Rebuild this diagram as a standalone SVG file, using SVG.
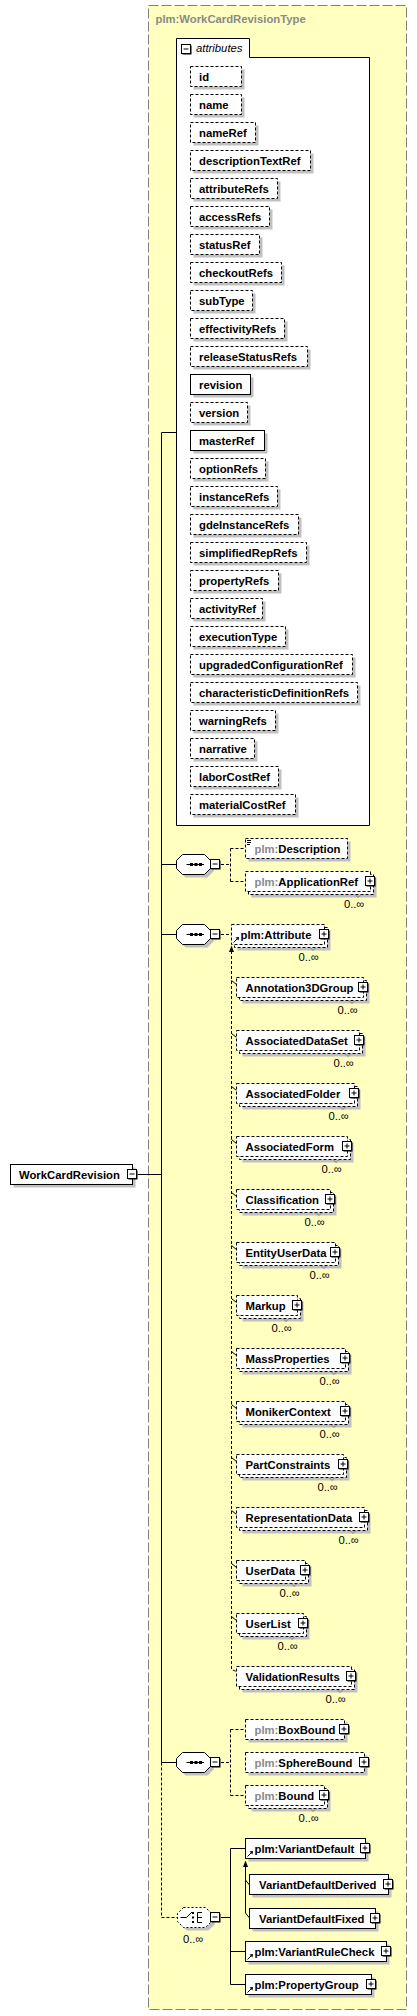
<svg xmlns="http://www.w3.org/2000/svg" xmlns:xlink="http://www.w3.org/1999/xlink" width="417" height="2016" viewBox="0 0 417 2016">
<style>
.t{font-family:"Liberation Sans",Arial,sans-serif;font-size:11.3px;font-weight:bold;fill:#000}
.g{fill:#8a8a8a}
.ti{font-family:"Liberation Sans",Arial,sans-serif;font-size:11.3px;font-weight:bold;fill:#8a8a8a}
.it{font-family:"Liberation Sans",Arial,sans-serif;font-size:11.3px;font-style:italic;fill:#000}
.m{font-family:"Liberation Sans",Arial,sans-serif;font-size:11.3px;fill:#000;text-anchor:end}
.sh{fill:#c0c0c0}
.b{fill:#fff;stroke:#000;stroke-width:1}
.ob{fill:#fff;stroke:#000;stroke-width:1;stroke-dasharray:3,2}
.ln{fill:none;stroke:#000;stroke-width:1}
.dl{fill:none;stroke:#000;stroke-width:1;stroke-dasharray:3,2}
</style>
<defs>
<g id="plus"><rect x="1.5" y="1.5" width="9" height="9" fill="#000"/><rect x="0.5" y="0.5" width="9" height="9" fill="#fff" stroke="#000"/><path d="M2.5 5h5M5 2.5v5" stroke="#000"/></g>
<g id="minus"><rect x="1.5" y="1.5" width="9" height="9" fill="#000"/><rect x="0.5" y="0.5" width="9" height="9" fill="#fff" stroke="#000"/><path d="M2.5 5h5" stroke="#000"/></g>
<path id="oct" d="M6.5,0.5 H28.5 L34.5,6.5 V14.5 L28.5,20.5 H6.5 L0.5,14.5 V6.5 Z"/>
<g id="seqicon"><path d="M10.5 10.5H28" stroke="#000"/><rect x="14" y="9" width="3" height="3" fill="#000"/><rect x="18.5" y="9" width="3" height="3" fill="#000"/><rect x="23" y="9" width="3" height="3" fill="#000"/></g>
<g id="ref"><path d="M0.5 6.5L4.5 2.5" stroke="#000"/><polygon points="6,1 2.5,1.5 5.5,4.5" fill="#000"/></g>
<path id="notch" d="M0 0l3 3l3 -3" fill="none" stroke="#808080"/>
</defs>

<g id="type-box">
<rect x="148.5" y="5.5" width="258" height="2004" fill="#FFFFC0" stroke="#808080" stroke-dasharray="10,3"/>
<text class="ti" x="155.5" y="22.5">plm:WorkCardRevisionType</text>
</g>

<g id="connectors">
<path class="ln" d="M137.5 1174.5H161.5"/>
<path class="ln" d="M161.5 432.5V1762.5"/>
<path class="ln" d="M161.5 432.5H176.5"/>
<path class="dl" d="M161.5 1762.5V1917.5H177"/>
<path class="ln" d="M161.5 864.5H176"/>
<path class="ln" d="M161.5 934.5H176"/>
<path class="ln" d="M161.5 1762.5H176"/>
<path class="dl" d="M221 864.5H230.5M230.5 848.5V881.5M230.5 848.5H245.5M230.5 881.5H245.5"/>
<path class="dl" d="M221 934.5H231.5"/>
<path class="dl" d="M231.5 951V1669.5L236.5 1671.5"/>
<polygon points="231.5,945.5 229,952 234,952" fill="#000"/>
<path class="ln" d="M231.5 980.5L236.5 984.5M231.5 1033.5L236.5 1037.5M231.5 1086.5L236.5 1090.5M231.5 1139.5L236.5 1143.5M231.5 1192.5L236.5 1196.5M231.5 1245.5L236.5 1249.5M231.5 1298.5L236.5 1302.5M231.5 1351.5L236.5 1355.5M231.5 1404.5L236.5 1408.5M231.5 1457.5L236.5 1461.5M231.5 1510.5L236.5 1514.5M231.5 1563.5L236.5 1567.5M231.5 1616.5L236.5 1620.5"/>
<path class="dl" d="M221 1762.5H230.5M230.5 1729.5V1795.5M230.5 1729.5H245.5M230.5 1795.5H245.5"/>
<path class="ln" d="M221 1917.5H230.5M230.5 1848.5V1984.5M230.5 1848.5H245.5M230.5 1951.5H245.5M230.5 1984.5H245.5"/>
<path class="ln" d="M245.5 1866V1913L249.5 1918M245.5 1880L249.5 1885"/>
<polygon points="245.5,1860.5 243,1867 248,1867" fill="#000"/>
</g>

<g id="n-WorkCardRevision">
<rect class="sh" x="13.5" y="1167.5" width="122" height="20"/>
<rect class="b" x="10.5" y="1164.5" width="122" height="20"/>
<text class="t" x="19" y="1178.5">WorkCardRevision</text>
<use href="#minus" x="127" y="1169"/>
</g>

<g id="attributes">
<path d="M176.5 38.5H249.5V57.5H369.5V825.5H176.5Z" fill="#fff" stroke="#000"/>
<use href="#minus" x="181" y="44"/>
<text class="it" x="196" y="52">attributes</text>
</g>

<g id="attr-id"><rect class="sh" x="193.5" y="69.5" width="51" height="20"/><rect class="ob" x="190.5" y="66.5" width="51" height="20"/><text class="t" x="199" y="80.5">id</text></g>
<g id="attr-name"><rect class="sh" x="193.5" y="97.5" width="51" height="20"/><rect class="ob" x="190.5" y="94.5" width="51" height="20"/><text class="t" x="199" y="108.5">name</text></g>
<g id="attr-nameRef"><rect class="sh" x="193.5" y="125.5" width="65" height="20"/><rect class="ob" x="190.5" y="122.5" width="65" height="20"/><text class="t" x="199" y="136.5">nameRef</text></g>
<g id="attr-descriptionTextRef"><rect class="sh" x="193.5" y="153.5" width="120" height="20"/><rect class="ob" x="190.5" y="150.5" width="120" height="20"/><text class="t" x="199" y="164.5">descriptionTextRef</text></g>
<g id="attr-attributeRefs"><rect class="sh" x="193.5" y="181.5" width="87" height="20"/><rect class="ob" x="190.5" y="178.5" width="87" height="20"/><text class="t" x="199" y="192.5">attributeRefs</text></g>
<g id="attr-accessRefs"><rect class="sh" x="193.5" y="209.5" width="79" height="20"/><rect class="ob" x="190.5" y="206.5" width="79" height="20"/><text class="t" x="199" y="220.5">accessRefs</text></g>
<g id="attr-statusRef"><rect class="sh" x="193.5" y="237.5" width="69" height="20"/><rect class="ob" x="190.5" y="234.5" width="69" height="20"/><text class="t" x="199" y="248.5">statusRef</text></g>
<g id="attr-checkoutRefs"><rect class="sh" x="193.5" y="265.5" width="91" height="20"/><rect class="ob" x="190.5" y="262.5" width="91" height="20"/><text class="t" x="199" y="276.5">checkoutRefs</text></g>
<g id="attr-subType"><rect class="sh" x="193.5" y="293.5" width="62" height="20"/><rect class="ob" x="190.5" y="290.5" width="62" height="20"/><text class="t" x="199" y="304.5">subType</text></g>
<g id="attr-effectivityRefs"><rect class="sh" x="193.5" y="321.5" width="94" height="20"/><rect class="ob" x="190.5" y="318.5" width="94" height="20"/><text class="t" x="199" y="332.5">effectivityRefs</text></g>
<g id="attr-releaseStatusRefs"><rect class="sh" x="193.5" y="349.5" width="117" height="20"/><rect class="ob" x="190.5" y="346.5" width="117" height="20"/><text class="t" x="199" y="360.5">releaseStatusRefs</text></g>
<g id="attr-revision"><rect class="sh" x="193.5" y="377.5" width="60" height="20"/><rect class="b" x="190.5" y="374.5" width="60" height="20"/><text class="t" x="199" y="388.5">revision</text></g>
<g id="attr-version"><rect class="sh" x="193.5" y="405.5" width="57" height="20"/><rect class="ob" x="190.5" y="402.5" width="57" height="20"/><text class="t" x="199" y="416.5">version</text></g>
<g id="attr-masterRef"><rect class="sh" x="193.5" y="433.5" width="74" height="20"/><rect class="b" x="190.5" y="430.5" width="74" height="20"/><text class="t" x="199" y="444.5">masterRef</text></g>
<g id="attr-optionRefs"><rect class="sh" x="193.5" y="461.5" width="75" height="20"/><rect class="ob" x="190.5" y="458.5" width="75" height="20"/><text class="t" x="199" y="472.5">optionRefs</text></g>
<g id="attr-instanceRefs"><rect class="sh" x="193.5" y="489.5" width="87" height="20"/><rect class="ob" x="190.5" y="486.5" width="87" height="20"/><text class="t" x="199" y="500.5">instanceRefs</text></g>
<g id="attr-gdeInstanceRefs"><rect class="sh" x="193.5" y="517.5" width="108" height="20"/><rect class="ob" x="190.5" y="514.5" width="108" height="20"/><text class="t" x="199" y="528.5">gdeInstanceRefs</text></g>
<g id="attr-simplifiedRepRefs"><rect class="sh" x="193.5" y="545.5" width="116" height="20"/><rect class="ob" x="190.5" y="542.5" width="116" height="20"/><text class="t" x="199" y="556.5">simplifiedRepRefs</text></g>
<g id="attr-propertyRefs"><rect class="sh" x="193.5" y="573.5" width="88" height="20"/><rect class="ob" x="190.5" y="570.5" width="88" height="20"/><text class="t" x="199" y="584.5">propertyRefs</text></g>
<g id="attr-activityRef"><rect class="sh" x="193.5" y="601.5" width="72" height="20"/><rect class="ob" x="190.5" y="598.5" width="72" height="20"/><text class="t" x="199" y="612.5">activityRef</text></g>
<g id="attr-executionType"><rect class="sh" x="193.5" y="629.5" width="95" height="20"/><rect class="ob" x="190.5" y="626.5" width="95" height="20"/><text class="t" x="199" y="640.5">executionType</text></g>
<g id="attr-upgradedConfigurationRef"><rect class="sh" x="193.5" y="657.5" width="162" height="20"/><rect class="ob" x="190.5" y="654.5" width="162" height="20"/><text class="t" x="199" y="668.5">upgradedConfigurationRef</text></g>
<g id="attr-characteristicDefinitionRefs"><rect class="sh" x="193.5" y="685.5" width="167" height="20"/><rect class="ob" x="190.5" y="682.5" width="167" height="20"/><text class="t" x="199" y="696.5">characteristicDefinitionRefs</text></g>
<g id="attr-warningRefs"><rect class="sh" x="193.5" y="713.5" width="85" height="20"/><rect class="ob" x="190.5" y="710.5" width="85" height="20"/><text class="t" x="199" y="724.5">warningRefs</text></g>
<g id="attr-narrative"><rect class="sh" x="193.5" y="741.5" width="64" height="20"/><rect class="ob" x="190.5" y="738.5" width="64" height="20"/><text class="t" x="199" y="752.5">narrative</text></g>
<g id="attr-laborCostRef"><rect class="sh" x="193.5" y="769.5" width="88" height="20"/><rect class="ob" x="190.5" y="766.5" width="88" height="20"/><text class="t" x="199" y="780.5">laborCostRef</text></g>
<g id="attr-materialCostRef"><rect class="sh" x="193.5" y="797.5" width="105" height="20"/><rect class="ob" x="190.5" y="794.5" width="105" height="20"/><text class="t" x="199" y="808.5">materialCostRef</text></g>

<g id="seq1">
<use href="#oct" x="179" y="857" fill="#c0c0c0"/>
<use href="#oct" x="176" y="854" fill="#fff" stroke="#000"/>
<use href="#seqicon" x="176" y="854"/>
<use href="#minus" x="210" y="859"/>
</g>
<g id="n-Description">
<rect class="sh" x="248.5" y="841.5" width="102" height="20"/>
<rect class="ob" x="245.5" y="838.5" width="102" height="20"/>
<path d="M247 840.5h4M247 842.5h4M247 844.5h3" stroke="#000"/>
<text class="t" x="254.5" y="852.5"><tspan class="g">plm:</tspan>Description</text>
</g>
<g id="n-ApplicationRef">
<rect class="sh" x="251.5" y="877.5" width="125" height="20"/>
<rect class="ob" x="248.5" y="874.5" width="125" height="20"/>
<rect class="ob" x="245.5" y="871.5" width="125" height="20"/>
<text class="t" x="254.5" y="885.5"><tspan class="g">plm:</tspan>ApplicationRef</text>
<use href="#plus" x="365" y="876"/>
<use href="#notch" x="355" y="894.5"/>
<text class="m" x="364.5" y="907.5">0..∞</text>
</g>

<g id="seq2">
<use href="#oct" x="179" y="927" fill="#c0c0c0"/>
<use href="#oct" x="176" y="924" fill="#fff" stroke="#000"/>
<use href="#seqicon" x="176" y="924"/>
<use href="#minus" x="210" y="929"/>
</g>
<g id="n-Attribute">
<rect class="sh" x="237.5" y="930.5" width="93" height="20"/>
<rect class="ob" x="234.5" y="927.5" width="93" height="20"/>
<rect class="ob" x="231.5" y="924.5" width="93" height="20"/>
<use href="#ref" x="233" y="936"/>
<text class="t" x="240.5" y="938.5">plm:Attribute</text>
<use href="#plus" x="319" y="929"/>
<use href="#notch" x="310" y="947.5"/>
<text class="m" x="319" y="960.5">0..∞</text>
</g>

<g id="n-Annotation3DGroup"><rect class="sh" x="242.5" y="983.5" width="127" height="20"/><rect class="ob" x="239.5" y="980.5" width="127" height="20"/><rect class="ob" x="236.5" y="977.5" width="127" height="20"/><text class="t" x="245.5" y="991.5">Annotation3DGroup</text><use href="#plus" x="358" y="982"/><use href="#notch" x="349" y="1000.5"/><text class="m" x="358" y="1013.5">0..∞</text></g>
<g id="n-AssociatedDataSet"><rect class="sh" x="242.5" y="1036.5" width="123" height="20"/><rect class="ob" x="239.5" y="1033.5" width="123" height="20"/><rect class="ob" x="236.5" y="1030.5" width="123" height="20"/><text class="t" x="245.5" y="1044.5">AssociatedDataSet</text><use href="#plus" x="354" y="1035"/><use href="#notch" x="345" y="1053.5"/><text class="m" x="354" y="1066.5">0..∞</text></g>
<g id="n-AssociatedFolder"><rect class="sh" x="242.5" y="1089.5" width="118" height="20"/><rect class="ob" x="239.5" y="1086.5" width="118" height="20"/><rect class="ob" x="236.5" y="1083.5" width="118" height="20"/><text class="t" x="245.5" y="1097.5">AssociatedFolder</text><use href="#plus" x="349" y="1088"/><use href="#notch" x="340" y="1106.5"/><text class="m" x="349" y="1119.5">0..∞</text></g>
<g id="n-AssociatedForm"><rect class="sh" x="242.5" y="1142.5" width="111" height="20"/><rect class="ob" x="239.5" y="1139.5" width="111" height="20"/><rect class="ob" x="236.5" y="1136.5" width="111" height="20"/><text class="t" x="245.5" y="1150.5">AssociatedForm</text><use href="#plus" x="342" y="1141"/><use href="#notch" x="333" y="1159.5"/><text class="m" x="342" y="1172.5">0..∞</text></g>
<g id="n-Classification"><rect class="sh" x="242.5" y="1195.5" width="94" height="20"/><rect class="ob" x="239.5" y="1192.5" width="94" height="20"/><rect class="ob" x="236.5" y="1189.5" width="94" height="20"/><text class="t" x="245.5" y="1203.5">Classification</text><use href="#plus" x="325" y="1194"/><use href="#notch" x="316" y="1212.5"/><text class="m" x="325" y="1225.5">0..∞</text></g>
<g id="n-EntityUserData"><rect class="sh" x="242.5" y="1248.5" width="99" height="20"/><rect class="ob" x="239.5" y="1245.5" width="99" height="20"/><rect class="ob" x="236.5" y="1242.5" width="99" height="20"/><text class="t" x="245.5" y="1256.5">EntityUserData</text><use href="#plus" x="330" y="1247"/><use href="#notch" x="321" y="1265.5"/><text class="m" x="330" y="1278.5">0..∞</text></g>
<g id="n-Markup"><rect class="sh" x="242.5" y="1301.5" width="61" height="20"/><rect class="ob" x="239.5" y="1298.5" width="61" height="20"/><rect class="ob" x="236.5" y="1295.5" width="61" height="20"/><text class="t" x="245.5" y="1309.5">Markup</text><use href="#plus" x="292" y="1300"/><use href="#notch" x="283" y="1318.5"/><text class="m" x="292" y="1331.5">0..∞</text></g>
<g id="n-MassProperties"><rect class="sh" x="242.5" y="1354.5" width="109" height="20"/><rect class="ob" x="239.5" y="1351.5" width="109" height="20"/><rect class="ob" x="236.5" y="1348.5" width="109" height="20"/><text class="t" x="245.5" y="1362.5">MassProperties</text><use href="#plus" x="340" y="1353"/><use href="#notch" x="331" y="1371.5"/><text class="m" x="340" y="1384.5">0..∞</text></g>
<g id="n-MonikerContext"><rect class="sh" x="242.5" y="1407.5" width="109" height="20"/><rect class="ob" x="239.5" y="1404.5" width="109" height="20"/><rect class="ob" x="236.5" y="1401.5" width="109" height="20"/><text class="t" x="245.5" y="1415.5">MonikerContext</text><use href="#plus" x="340" y="1406"/><use href="#notch" x="331" y="1424.5"/><text class="m" x="340" y="1437.5">0..∞</text></g>
<g id="n-PartConstraints"><rect class="sh" x="242.5" y="1460.5" width="107" height="20"/><rect class="ob" x="239.5" y="1457.5" width="107" height="20"/><rect class="ob" x="236.5" y="1454.5" width="107" height="20"/><text class="t" x="245.5" y="1468.5">PartConstraints</text><use href="#plus" x="338" y="1459"/><use href="#notch" x="329" y="1477.5"/><text class="m" x="338" y="1490.5">0..∞</text></g>
<g id="n-RepresentationData"><rect class="sh" x="242.5" y="1513.5" width="128" height="20"/><rect class="ob" x="239.5" y="1510.5" width="128" height="20"/><rect class="ob" x="236.5" y="1507.5" width="128" height="20"/><text class="t" x="245.5" y="1521.5">RepresentationData</text><use href="#plus" x="359" y="1512"/><use href="#notch" x="350" y="1530.5"/><text class="m" x="359" y="1543.5">0..∞</text></g>
<g id="n-UserData"><rect class="sh" x="242.5" y="1566.5" width="69" height="20"/><rect class="ob" x="239.5" y="1563.5" width="69" height="20"/><rect class="ob" x="236.5" y="1560.5" width="69" height="20"/><text class="t" x="245.5" y="1574.5">UserData</text><use href="#plus" x="300" y="1565"/><use href="#notch" x="291" y="1583.5"/><text class="m" x="300" y="1596.5">0..∞</text></g>
<g id="n-UserList"><rect class="sh" x="242.5" y="1619.5" width="67" height="20"/><rect class="ob" x="239.5" y="1616.5" width="67" height="20"/><rect class="ob" x="236.5" y="1613.5" width="67" height="20"/><text class="t" x="245.5" y="1627.5">UserList</text><use href="#plus" x="298" y="1618"/><use href="#notch" x="289" y="1636.5"/><text class="m" x="298" y="1649.5">0..∞</text></g>
<g id="n-ValidationResults"><rect class="sh" x="242.5" y="1672.5" width="115" height="20"/><rect class="ob" x="239.5" y="1669.5" width="115" height="20"/><rect class="ob" x="236.5" y="1666.5" width="115" height="20"/><text class="t" x="245.5" y="1680.5">ValidationResults</text><use href="#plus" x="346" y="1671"/><use href="#notch" x="337" y="1689.5"/><text class="m" x="346" y="1702.5">0..∞</text></g>

<g id="seq3">
<use href="#oct" x="179" y="1755" fill="#c0c0c0"/>
<use href="#oct" x="176" y="1752" fill="#fff" stroke="#000"/>
<use href="#seqicon" x="176" y="1752"/>
<use href="#minus" x="210" y="1757"/>
</g>
<g id="n-BoxBound"><rect class="sh" x="248.5" y="1722.5" width="99" height="20"/><rect class="ob" x="245.5" y="1719.5" width="99" height="20"/><text class="t" x="254.5" y="1733.5"><tspan class="g">plm:</tspan>BoxBound</text><use href="#plus" x="339" y="1724"/></g>
<g id="n-SphereBound"><rect class="sh" x="248.5" y="1755.5" width="119" height="20"/><rect class="ob" x="245.5" y="1752.5" width="119" height="20"/><text class="t" x="254.5" y="1766.5"><tspan class="g">plm:</tspan>SphereBound</text><use href="#plus" x="359" y="1757"/></g>
<g id="n-Bound"><rect class="sh" x="251.5" y="1791.5" width="79" height="20"/><rect class="ob" x="248.5" y="1788.5" width="79" height="20"/><rect class="ob" x="245.5" y="1785.5" width="79" height="20"/><text class="t" x="254.5" y="1799.5"><tspan class="g">plm:</tspan>Bound</text><use href="#plus" x="319" y="1790"/><use href="#notch" x="310" y="1808.5"/><text class="m" x="319" y="1821.5">0..∞</text></g>

<g id="choice">
<use href="#oct" x="180" y="1910" fill="#c0c0c0"/>
<use href="#oct" x="177" y="1907" fill="#fff" stroke="#000" stroke-dasharray="2,2"/>
<path d="M180.5 1917.5H186.5L192 1912" stroke="#000" fill="none"/>
<rect x="192" y="1912" width="2" height="2" fill="#000"/>
<rect x="192" y="1916.5" width="2" height="2" fill="#000"/>
<rect x="192" y="1921" width="2" height="2" fill="#000"/>
<path d="M197.5 1912.5V1922.5M197.5 1912.5H202M197.5 1917.5H202M197.5 1922.5H202" stroke="#000" fill="none"/>
<use href="#minus" x="210" y="1912"/>
<text class="m" x="203.5" y="1942.5">0..∞</text>
</g>
<g id="n-VariantDefault"><rect class="sh" x="248.5" y="1841.5" width="120" height="20"/><rect class="b" x="245.5" y="1838.5" width="120" height="20"/><use href="#ref" x="247" y="1850"/><text class="t" x="254.5" y="1852.5">plm:VariantDefault</text><use href="#plus" x="360" y="1843"/></g>
<g id="n-VariantDefaultDerived"><rect class="sh" x="252.5" y="1877.5" width="139" height="20"/><rect class="b" x="249.5" y="1874.5" width="139" height="20"/><text class="t" x="259" y="1888.5">VariantDefaultDerived</text><use href="#plus" x="383" y="1879"/></g>
<g id="n-VariantDefaultFixed"><rect class="sh" x="252.5" y="1911.5" width="126" height="20"/><rect class="b" x="249.5" y="1908.5" width="126" height="20"/><text class="t" x="259" y="1922.5">VariantDefaultFixed</text><use href="#plus" x="370" y="1913"/></g>
<g id="n-VariantRuleCheck"><rect class="sh" x="248.5" y="1944.5" width="141" height="20"/><rect class="b" x="245.5" y="1941.5" width="141" height="20"/><use href="#ref" x="247" y="1953"/><text class="t" x="254.5" y="1955.5">plm:VariantRuleCheck</text><use href="#plus" x="381" y="1946"/></g>
<g id="n-PropertyGroup"><rect class="sh" x="248.5" y="1977.5" width="126" height="20"/><rect class="b" x="245.5" y="1974.5" width="126" height="20"/><use href="#ref" x="247" y="1986"/><text class="t" x="254.5" y="1988.5">plm:PropertyGroup</text><use href="#plus" x="366" y="1979"/></g>
</svg>
